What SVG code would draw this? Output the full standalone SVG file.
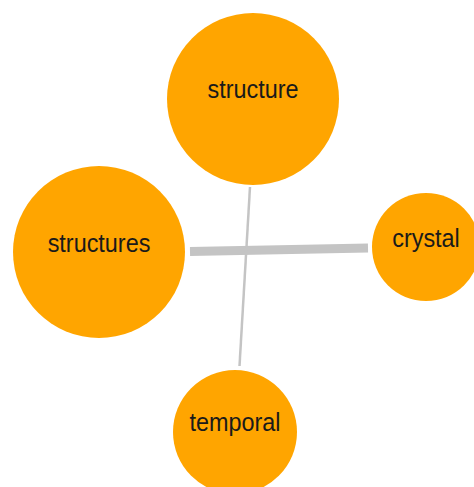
<svg xmlns="http://www.w3.org/2000/svg" width="474" height="487" viewBox="0 0 474 487">
<style>
.node circle{fill:#FFA500;}
.node text{font-family:"Liberation Sans",Arial,sans-serif;font-size:26px;fill:#1a1a1a;text-anchor:middle;}
.link{stroke:#c4c4c4;fill:none;}
</style>
<rect width="474" height="487" fill="#ffffff"/>
<g id="connectors">
<line class="link" x1="190" y1="251.5" x2="368" y2="248" stroke-width="9"/>
<line class="link" x1="250" y1="187" x2="239.5" y2="366" stroke-width="2.5"/>
</g>
<g id="node-structure" class="node"><circle cx="253" cy="99" r="86"/><text transform="translate(253,98) scale(0.9,1)">structure</text></g>
<g id="node-structures" class="node"><circle cx="99" cy="252" r="86"/><text transform="translate(99,252) scale(0.9,1)">structures</text></g>
<g id="node-crystal" class="node"><circle cx="426" cy="247" r="54"/><text transform="translate(426,247) scale(0.9,1)">crystal</text></g>
<g id="node-temporal" class="node"><circle cx="235" cy="432" r="62"/><text transform="translate(235,431) scale(0.9,1)">temporal</text></g>
</svg>
